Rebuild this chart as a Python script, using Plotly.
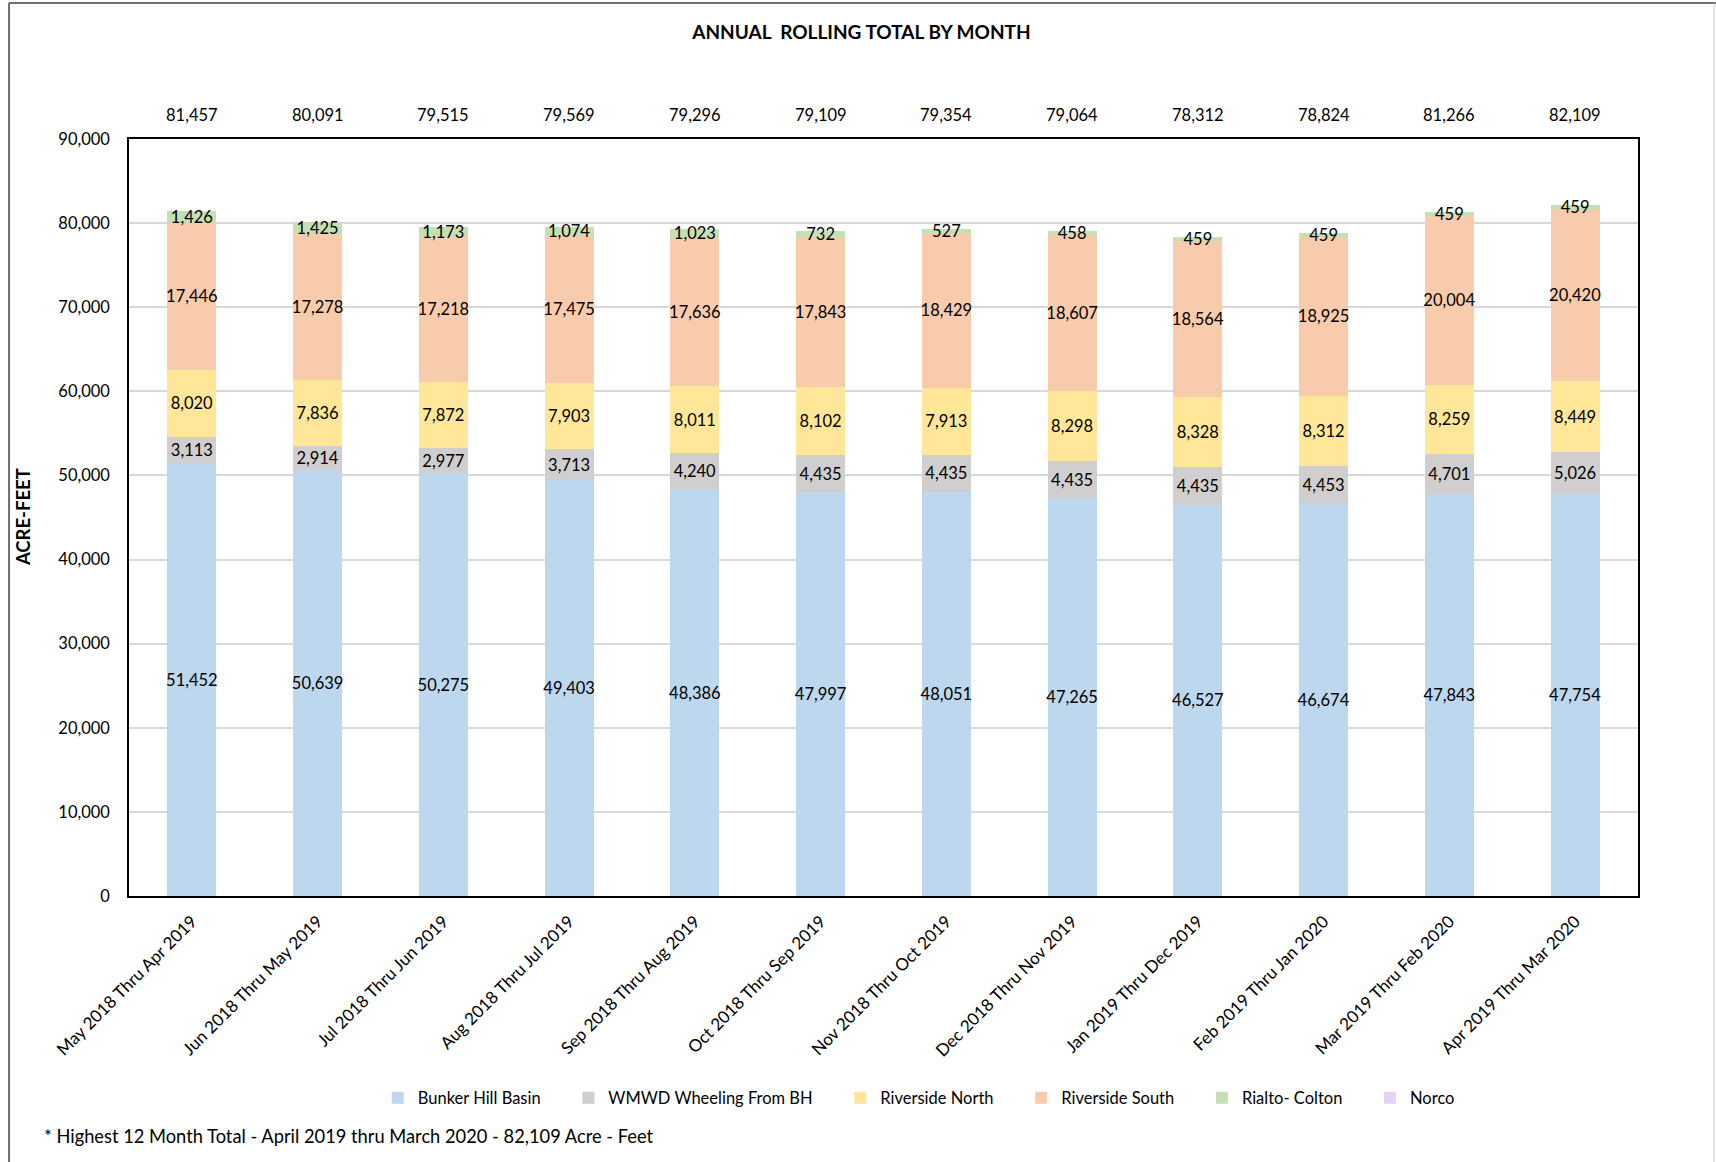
import plotly.graph_objects as go

categories = ["May 2018 Thru Apr 2019", "Jun 2018 Thru May 2019", "Jul 2018 Thru Jun 2019",
              "Aug 2018 Thru Jul 2019", "Sep 2018 Thru Aug 2019", "Oct 2018 Thru Sep 2019",
              "Nov 2018 Thru Oct 2019", "Dec 2018 Thru Nov 2019", "Jan 2019 Thru Dec 2019",
              "Feb 2019 Thru Jan 2020", "Mar 2019 Thru Feb 2020", "Apr 2019 Thru Mar 2020"]

bunker_hill = [51452, 50639, 50275, 49403, 48386, 47997, 48051, 47265, 46527, 46674, 47843, 47754]
wmwd = [3113, 2914, 2977, 3713, 4240, 4435, 4435, 4435, 4435, 4453, 4701, 5026]
riverside_north = [8020, 7836, 7872, 7903, 8011, 8102, 7913, 8298, 8328, 8312, 8259, 8449]
riverside_south = [17446, 17278, 17218, 17475, 17636, 17843, 18429, 18607, 18564, 18925, 20004, 20420]
rialto_colton = [1426, 1425, 1173, 1074, 1023, 732, 527, 458, 459, 459, 459, 459]
norco = [0] * 12
totals = [81457, 80091, 79515, 79569, 79296, 79109, 79354, 79064, 78312, 78824, 81266, 82109]

series_names = ["Bunker Hill Basin", "WMWD Wheeling From BH", "Riverside North",
                "Riverside South", "Rialto- Colton", "Norco"]
series_values = [bunker_hill, wmwd, riverside_north, riverside_south, rialto_colton, norco]
series_colors = ["#BDD7EE", "#D0CECE", "#FFE699", "#F8CBAD", "#C5E0B4", "#E4D2F8"]

title_text = "ANNUAL  ROLLING TOTAL BY MONTH"
y_title = "ACRE-FEET"
footnote = "* Highest 12 Month Total - April 2019 thru March 2020 - 82,109 Acre - Feet"

FONT = "Lato, 'Open Sans', sans-serif"
NUM = 16.5

fig = go.Figure()
for name, vals, color in zip(series_names, series_values, series_colors):
    texts = [f"{v:,}" if v else "" for v in vals]
    fig.add_trace(go.Bar(
        name=name + "\u2003\u2002\u2009", x=categories, y=vals,
        marker=dict(color=color, line=dict(width=0)),
        text=texts, textposition="inside", insidetextanchor="middle", textangle=0,
        textfont=dict(family=FONT, size=NUM, color="#000000"),
        hovertext=[name] * len(vals), hoverinfo="x+y+text",
    ))

annotations = []
for c, t in zip(categories, totals):
    annotations.append(dict(x=c, y=1.0317, xref="x", yref="paper", text=f"{t:,}",
                            showarrow=False, font=dict(family=FONT, size=NUM, color="#000"),
                            yanchor="middle"))
annotations.append(dict(x=-0.0577, y=-0.317, xref="paper", yref="paper", text=footnote,
                        showarrow=False, xanchor="left", yanchor="middle",
                        font=dict(family=FONT, size=18.3, color="#000")))
annotations.append(dict(x=-0.0705, y=0.5, xref="paper", yref="paper", text=f"<b>{y_title}</b>",
                        showarrow=False, textangle=-90, xanchor="center", yanchor="middle",
                        font=dict(family=FONT, size=18.5, color="#000")))

shapes = [
    dict(type="line", xref="paper", yref="paper", x0=-0.0795, x1=1.06, y0=1.1797, y1=1.1797,
         line=dict(color="#404040", width=1.5)),
    dict(type="line", xref="paper", yref="paper", x0=-0.0795, x1=-0.0795, y0=1.1797, y1=-0.4,
         line=dict(color="#404040", width=1.5)),
    dict(type="line", xref="paper", yref="paper", x0=1.0504, x1=1.0504, y0=1.1797, y1=-0.4,
         line=dict(color="#C8C8C8", width=1)),
]

fig.update_layout(
    width=1716, height=1162,
    margin=dict(l=129, r=78, t=139, b=266, autoexpand=False),
    paper_bgcolor="white", plot_bgcolor="white",
    barmode="stack", bargap=0.61,
    font=dict(family=FONT, size=NUM, color="#000"),
    title=dict(text=f"<b>{title_text}</b>", x=0.502, xanchor="center", y=1 - 32 / 1162,
               yanchor="middle", font=dict(family=FONT, size=19, color="#000")),
    uniformtext=dict(minsize=NUM, mode="show"),
    legend=dict(orientation="h", x=0.531, xanchor="center", y=-0.267, yanchor="middle",
                font=dict(family=FONT, size=16.5, color="#000"), itemwidth=30,
                traceorder="normal"),
    annotations=annotations,
    shapes=shapes,
    xaxis=dict(tickangle=-45, showgrid=False, showline=True, linecolor="#000", linewidth=1.5,
               mirror=True, ticks="", ticklabelstandoff=7,
               tickfont=dict(family=FONT, size=17, color="#000")),
    yaxis=dict(range=[0, 90000], dtick=10000, tickformat=",d", showgrid=True,
               gridcolor="#D9D9D9", gridwidth=1.5, showline=True, linecolor="#000",
               linewidth=1.5, mirror=True, ticks="", ticklabelstandoff=14,
               tickfont=dict(family=FONT, size=NUM, color="#000"), zeroline=False),
)

fig.write_html("out.html", config={"displayModeBar": False},
               post_script="document.body.style.margin='0px';")
